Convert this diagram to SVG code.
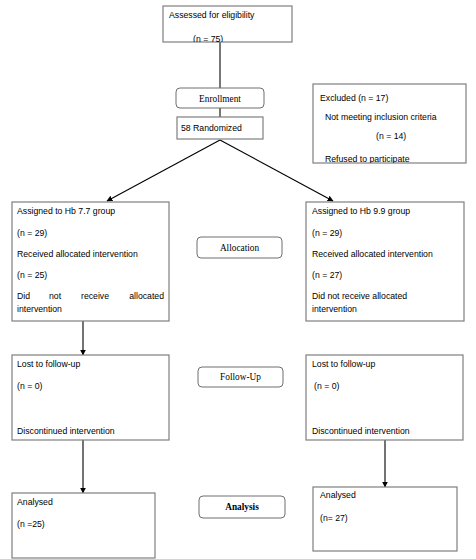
<svg xmlns="http://www.w3.org/2000/svg" width="476" height="559" viewBox="0 0 476 559">
<style>
.box{fill:#fff;stroke:#7f7f7f;stroke-width:1.2}
.rbox{fill:#fff;stroke:#6f6f6f;stroke-width:1}
.t{font-family:"Liberation Sans",Arial,sans-serif;font-size:8.7px;fill:#000}
.s{font-family:"Liberation Serif","Times New Roman",serif;font-size:9.3px;fill:#000;text-anchor:middle}
.b{font-weight:bold}
.c{stroke:#000;stroke-width:1.1;fill:none}
.c2{stroke:#555;stroke-width:1.6;fill:none}
</style>
<defs>
<marker id="ah" viewBox="0 0 10 10" refX="9" refY="5" markerWidth="6" markerHeight="6" orient="auto" markerUnits="userSpaceOnUse">
<path d="M0,0 L10,5 L0,10 z" fill="#000"/>
</marker>
<clipPath id="cTop"><rect x="163" y="6" width="129" height="36"/></clipPath>
<clipPath id="cExc"><rect x="313" y="84" width="153" height="79"/></clipPath>
</defs>
<g id="connectors">
<line class="c2" x1="220" y1="42" x2="220" y2="117"/>
<line class="c" x1="220" y1="140" x2="107" y2="201" marker-end="url(#ah)"/>
<line class="c" x1="220" y1="140" x2="333" y2="201" marker-end="url(#ah)"/>
<line class="c" x1="83" y1="321" x2="83" y2="355" marker-end="url(#ah)"/>
<line class="c" x1="83" y1="440" x2="83" y2="493" marker-end="url(#ah)"/>
<line class="c" x1="385" y1="440" x2="385" y2="487" marker-end="url(#ah)"/>
</g>
<g id="assessed">
<rect class="box" x="163" y="6" width="129" height="36"/>
<g clip-path="url(#cTop)">
<text class="t" x="169" y="18">Assessed for eligibility</text>
<text class="t" x="193" y="42">(n = 75)</text>
</g>
</g>
<g id="enrollment">
<rect class="rbox" x="176" y="88" width="88" height="20" rx="4"/>
<text class="s" x="220" y="101.5">Enrollment</text>
</g>
<g id="randomized">
<rect class="box" x="177" y="117" width="86" height="22"/>
<text class="t" x="181" y="131">58 Randomized</text>
</g>
<g id="excluded">
<rect class="box" x="313" y="84" width="153" height="79"/>
<g clip-path="url(#cExc)">
<text class="t" x="320" y="101">Excluded (n = 17)</text>
<text class="t" x="325" y="120">Not meeting inclusion criteria</text>
<text class="t" x="376" y="139">(n = 14)</text>
<text class="t" x="325" y="162">Refused to participate</text>
</g>
</g>
<g id="assigned77">
<rect class="box" x="12" y="202" width="157" height="119"/>
<text class="t" x="17" y="214">Assigned to Hb 7.7 group</text>
<text class="t" x="17" y="236">(n = 29)</text>
<text class="t" x="17" y="257">Received allocated intervention</text>
<text class="t" x="17" y="278">(n = 25)</text>
<text class="t" x="17" y="299">Did</text>
<text class="t" x="49" y="299">not</text>
<text class="t" x="81" y="299">receive</text>
<text class="t" x="164" y="299" text-anchor="end">allocated</text>
<text class="t" x="17" y="312">intervention</text>
</g>
<g id="allocation">
<rect class="rbox" x="197" y="237" width="85" height="21" rx="4"/>
<text class="s" x="239.5" y="250.5">Allocation</text>
</g>
<g id="assigned99">
<rect class="box" x="306" y="202" width="158" height="119"/>
<text class="t" x="312" y="214">Assigned to Hb 9.9 group</text>
<text class="t" x="312" y="236">(n = 29)</text>
<text class="t" x="312" y="257">Received allocated intervention</text>
<text class="t" x="312" y="278">(n = 27)</text>
<text class="t" x="312" y="299">Did not receive allocated</text>
<text class="t" x="312" y="312">intervention</text>
</g>
<g id="lost-left">
<rect class="box" x="12" y="355" width="157" height="85"/>
<text class="t" x="17" y="367">Lost to follow-up</text>
<text class="t" x="17" y="389">(n = 0)</text>
<text class="t" x="17" y="434">Discontinued intervention</text>
</g>
<g id="followup">
<rect class="rbox" x="198" y="367" width="85" height="20" rx="4"/>
<text class="s" x="240.5" y="380">Follow-Up</text>
</g>
<g id="lost-right">
<rect class="box" x="306" y="355" width="157" height="85"/>
<text class="t" x="312" y="367">Lost to follow-up</text>
<text class="t" x="314" y="389">(n = 0)</text>
<text class="t" x="312" y="434">Discontinued intervention</text>
</g>
<g id="analysed-left">
<rect class="box" x="12" y="493" width="143" height="65"/>
<text class="t" x="17" y="505">Analysed</text>
<text class="t" x="17" y="527">(n =25)</text>
</g>
<g id="analysis">
<rect class="rbox" x="199" y="496" width="86" height="22" rx="4"/>
<text class="s b" x="242" y="510">Analysis</text>
</g>
<g id="analysed-right">
<rect class="box" x="313" y="487" width="144" height="64"/>
<text class="t" x="320" y="498">Analysed</text>
<text class="t" x="320" y="521">(n= 27)</text>
</g>
</svg>
